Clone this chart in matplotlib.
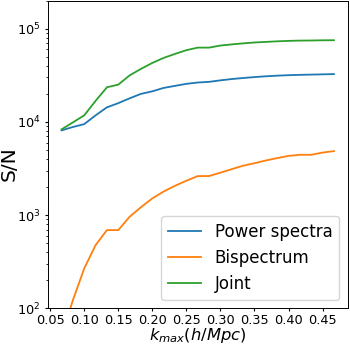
import numpy as np
from matplotlib import pyplot as plt

# k_max values (h/Mpc)
kmax = [0.0667, 0.0833, 0.1000, 0.1167, 0.1333, 0.1500, 0.1667, 0.1833,
        0.2000, 0.2167, 0.2333, 0.2500, 0.2667, 0.2833, 0.3000, 0.3167,
        0.3333, 0.3500, 0.3667, 0.3833, 0.4000, 0.4167, 0.4333, 0.4500,
        0.4667]

power_sn = [8100, 8800, 9450, 11740, 14300, 15860, 17870, 19950,
            21240, 23120, 24300, 25550, 26400, 26840, 27860, 28760,
            29500, 30200, 30800, 31260, 31650, 31900, 32100, 32300,
            32500]

bispec_sn = [50, 122, 268, 477, 690, 690, 960, 1215,
             1510, 1790, 2060, 2335, 2620, 2620, 2850, 3110,
             3380, 3600, 3850, 4080, 4310, 4430, 4430, 4680,
             4850]

joint_sn = [8300, 9860, 11740, 16790, 23470, 25060, 31500, 36960,
            42850, 48500, 53550, 58660, 62500, 62500, 65800, 67700,
            69400, 70960, 71950, 73050, 73800, 74330, 74500, 74900,
            75000]

fig = plt.figure(figsize=(3.5, 3.47), dpi=100)
ax = fig.add_axes([0.137, 0.1115, 0.856, 0.887])

ax.plot(kmax, power_sn, label="Power spectra", lw=1.3)
ax.plot(kmax, bispec_sn, label="Bispectrum", lw=1.3)
ax.plot(kmax, joint_sn, label="Joint", lw=1.3)

ax.set_yscale("log")
ax.set_ylim(100, 2e5)
ax.set_xticks([0.05, 0.10, 0.15, 0.20, 0.25, 0.30, 0.35, 0.40, 0.45])
ax.set_xticklabels(["0.05", "0.10", "0.15", "0.20", "0.25", "0.30", "0.35", "0.40", "0.45"])
ax.tick_params(which="major", labelsize=9.3, length=2.3)
ax.tick_params(which="minor", length=1.4)
ax.tick_params(axis="x", pad=2)
ax.tick_params(axis="y", pad=3)
for s in ax.spines.values():
    s.set_linewidth(0.7)

ax.set_xlabel(r"$k_{max}(h/Mpc)$", fontsize=11.8)
ax.set_ylabel("S/N", fontsize=14.5)
ax.xaxis.set_label_coords(0.5, -0.057)
ax.yaxis.set_label_coords(-0.098, 0.469)
ax.legend(loc="lower right", fontsize=12)

fig.savefig("out.png", dpi=100)
